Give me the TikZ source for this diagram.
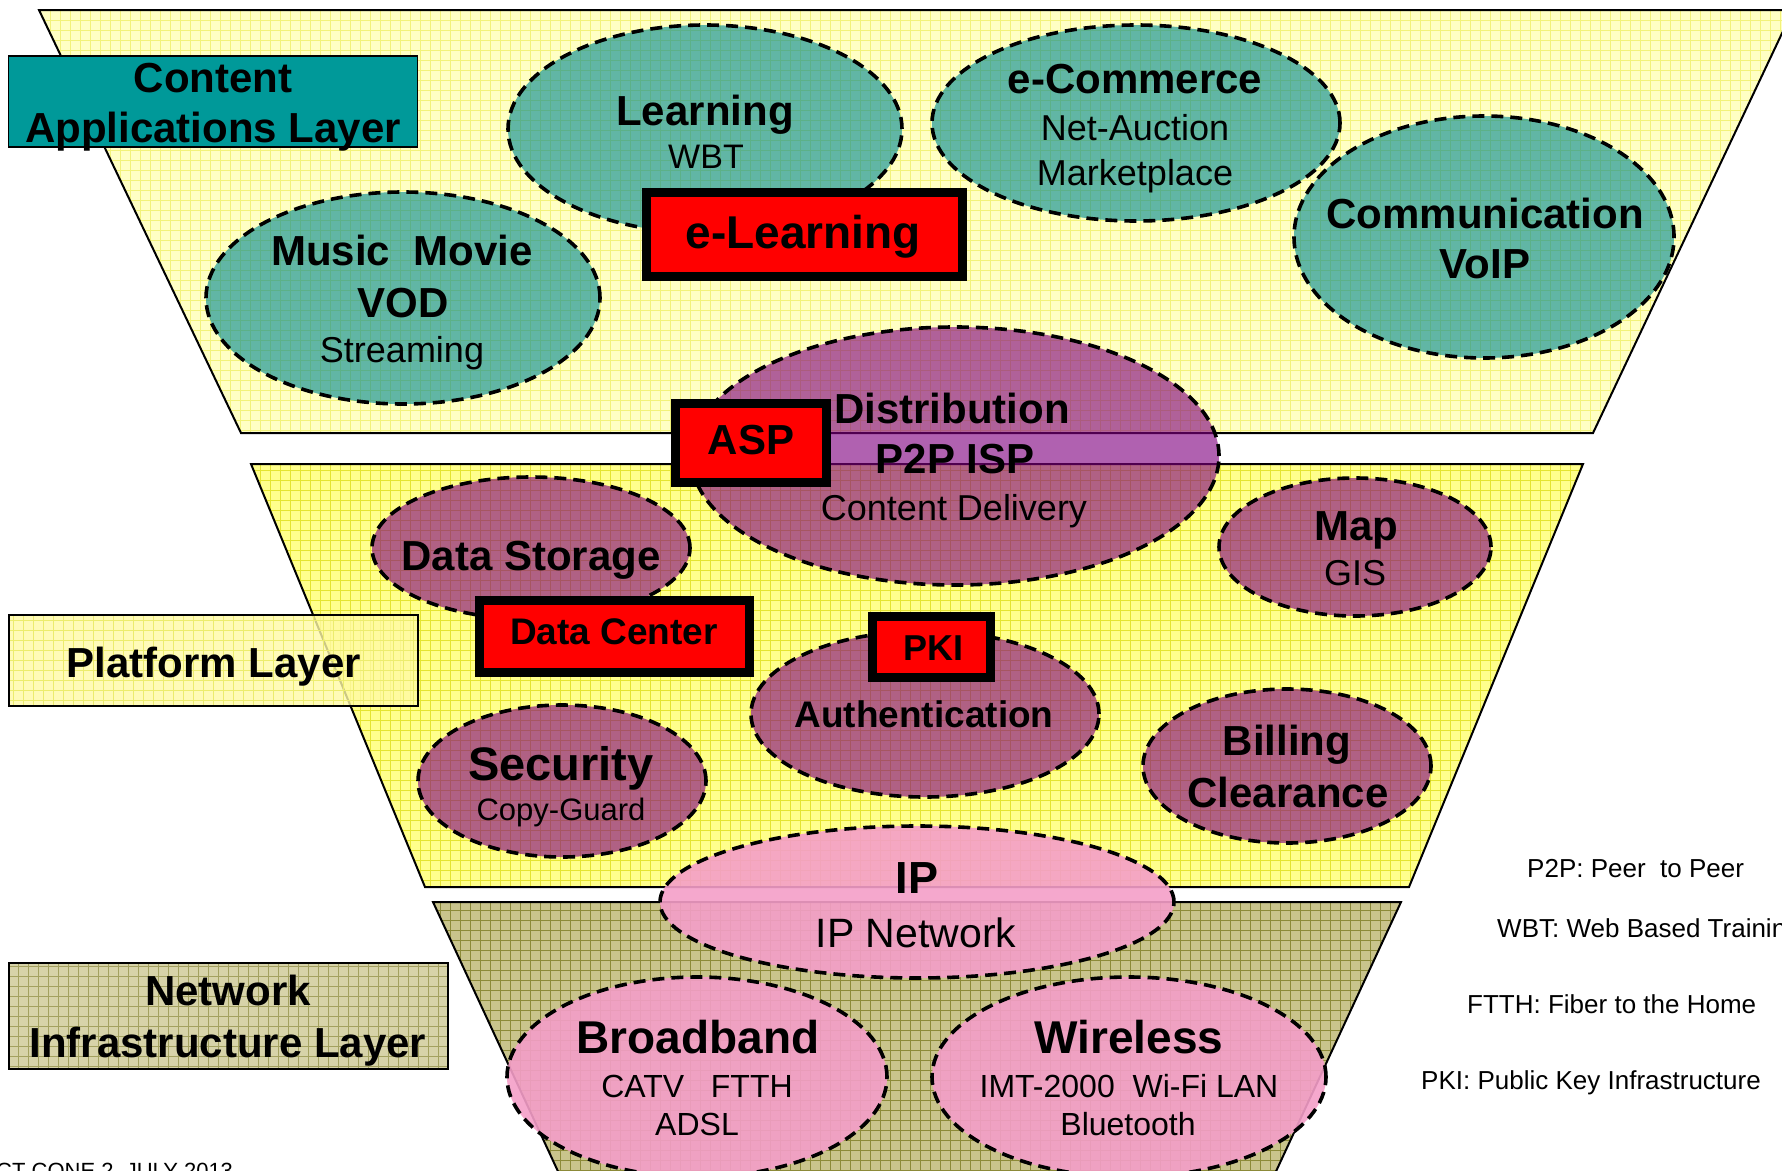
\documentclass[tikz,border=0pt]{standalone}
\usepackage{fontspec}
\setmainfont{Liberation Sans}
\usetikzlibrary{shapes.geometric}

\definecolor{paleyellow}{HTML}{FFFFC4}
\definecolor{paleyellowgrid}{HTML}{F2F27A}
\definecolor{platyellow}{HTML}{FFFF8C}
\definecolor{platyellowgrid}{HTML}{E4E430}
\definecolor{olivefill}{HTML}{C9C48C}
\definecolor{olivegrid}{HTML}{8C8A38}
\definecolor{tealbox}{HTML}{009999}
\definecolor{tealblob}{HTML}{008A92}
\definecolor{plumblob}{HTML}{800080}
\definecolor{pinkblob}{HTML}{F49EC8}

% one funnel layer: outline, fill colour, grid colour
\newcommand{\layerfill}[3]{%
  \begin{scope}
    \clip #1 -- cycle;
    \fill[#2] (0,0) rectangle (1800,1180);
    \draw[#3, line width=0.7pt, step=10pt] (0,1180) grid (1800,0);
  \end{scope}
  \draw[layer] #1 -- cycle;}

\begin{document}
\begin{tikzpicture}[x=1pt,y=-1pt,
    layer/.style={draw=black, line width=2pt},
    lblbox/.style={draw=black, line width=1.6pt, inner sep=0pt},
    blob/.style={ellipse, draw=black, line width=3.6pt, dash pattern=on 12pt off 7pt,
      fill opacity=0.62, inner sep=0pt},
    redbox/.style={draw=black, fill=red, line width=9pt, inner sep=0pt},
    head/.style={anchor=base, inner sep=0pt, font=\bfseries\fontsize{42}{42}\selectfont},
    sub/.style={anchor=base, inner sep=0pt, font=\fontsize{36}{36}\selectfont},
    note/.style={anchor=base west, inner sep=0pt, font=\fontsize{26}{26}\selectfont}]
  \useasboundingbox (0,0) rectangle (1782,1170);
  \clip (0,0) rectangle (1782,1170);

  % the three layers of the funnel
  \layerfill{(39,10) -- (1793,10) -- (1593,433) -- (241,433)}{paleyellow}{paleyellowgrid}
  \layerfill{(251,464) -- (1583,464) -- (1409,887) -- (425,887)}{platyellow}{platyellowgrid}
  \layerfill{(433,902) -- (1401,902) -- (1272,1180) -- (562,1180)}{olivefill}{olivegrid}

  % layer names
  \node[lblbox, fill=tealbox, minimum width=409pt, minimum height=91pt] (contentlbl) at (213,101.5) {};
  \node[lblbox, fill=yellow!35, fill opacity=0.8, minimum width=409pt, minimum height=91pt,
    path picture={\draw[platyellowgrid!70, line width=0.6pt, step=10pt]
      (path picture bounding box.south west) grid (path picture bounding box.north east);}]
    (platformlbl) at (213.5,660.5) {};
  \node[lblbox, fill=olivefill!75, minimum width=439pt, minimum height=106pt,
    path picture={\draw[olivegrid!80, line width=0.6pt, step=10pt]
      (path picture bounding box.south west) grid (path picture bounding box.north east);}]
    (networklbl) at (228.5,1016) {};

  % content applications
  \node[blob, fill=tealblob, minimum width=394pt, minimum height=208pt] (learn) at (705,129) {};
  \node[blob, fill=tealblob, minimum width=408pt, minimum height=196pt] (ecom) at (1136,123) {};
  \node[blob, fill=tealblob, minimum width=380pt, minimum height=242pt] (comm) at (1484,237) {};
  \node[blob, fill=tealblob, minimum width=394pt, minimum height=212pt] (music) at (403,298) {};

  % platform
  \node[blob, fill=plumblob, minimum width=528pt, minimum height=258pt] (distr) at (955,456) {};
  \node[blob, fill=plumblob, minimum width=318pt, minimum height=142pt] (store) at (531,548) {};
  \node[blob, fill=plumblob, minimum width=348pt, minimum height=166pt] (auth) at (925,714) {};
  \node[blob, fill=plumblob, minimum width=288pt, minimum height=152pt] (secur) at (562,781) {};
  \node[blob, fill=plumblob, minimum width=272pt, minimum height=138pt] (map) at (1355,547) {};
  \node[blob, fill=plumblob, minimum width=288pt, minimum height=154pt] (bill) at (1287,766) {};

  % network infrastructure
  \node[blob, fill=pinkblob, fill opacity=0.9, minimum width=514pt, minimum height=152pt] (ip) at (917,902) {};
  \node[blob, fill=pinkblob, fill opacity=0.9, minimum width=380pt, minimum height=200pt] (broad) at (697,1077) {};
  \node[blob, fill=pinkblob, fill opacity=0.9, minimum width=394pt, minimum height=200pt] (wire) at (1129,1077) {};

  % business boxes
  \node[redbox, minimum width=316pt, minimum height=84pt] (elearn) at (804.5,234.5) {};
  \node[redbox, minimum width=151pt, minimum height=79pt] (asp) at (751,443) {};
  \node[redbox, minimum width=270pt, minimum height=72pt] (dcenter) at (614.5,636.5) {};
  \node[redbox, minimum width=118pt, minimum height=61pt] (pki) at (931.5,647) {};

  % texts
  \node[head] (contenttxt) at (213,92) {Content};
  \node[head] (appltxt) at (213,142) {Applications Layer};
  \node[head] (platformtxt) at (214,677) {Platform Layer};
  \node[head] (networktxt) at (228,1005) {Network};
  \node[head] (infratxt) at (228,1057) {Infrastructure Layer};

  \node[head] (learntxt) at (705,125) {Learning};
  \node[sub, font=\fontsize{34}{34}\selectfont] (wbttxt) at (706,168) {WBT};
  \node[head] (ecomtxt) at (1135,93) {e-Commerce};
  \node[sub] (auctiontxt) at (1135,140) {Net-Auction};
  \node[sub] (markettxt) at (1135,185) {Marketplace};
  \node[head] (commtxt) at (1485,228) {Communication};
  \node[head] (voiptxt) at (1485,278) {VoIP};
  \node[head] (musictxt) at (402,265) {Music\ \ Movie};
  \node[head] (vodtxt) at (403,317) {VOD};
  \node[sub] (streamtxt) at (402,362) {Streaming};
  \node[head, font=\bfseries\fontsize{46}{46}\selectfont] (elearntxt) at (803,248) {e-Learning};

  \node[head] (asptxt) at (751,454) {ASP};
  \node[head] (distrtxt) at (952,423) {Distribution};
  \node[head] (isptxt) at (955,473) {P2P ISP};
  \node[sub] (deliverytxt) at (954,520) {Content Delivery};
  \node[head] (storetxt) at (531,570) {Data Storage};
  \node[head, font=\bfseries\fontsize{37}{37}\selectfont] (dcentertxt) at (614,644) {Data Center};
  \node[head, font=\bfseries\fontsize{36}{36}\selectfont] (pkitxt) at (933,660) {PKI};
  \node[head, font=\bfseries\fontsize{37}{37}\selectfont] (authtxt) at (924,727) {Authentication};
  \node[head, font=\bfseries\fontsize{47}{47}\selectfont] (securtxt) at (561,780) {Security};
  \node[sub, font=\fontsize{31}{31}\selectfont] (guardtxt) at (561,820) {Copy-Guard};
  \node[head] (maptxt) at (1356,540) {Map};
  \node[sub] (gistxt) at (1355,585) {GIS};
  \node[head] (billtxt) at (1287,755) {Billing};
  \node[head] (cleartxt) at (1288,807) {Clearance};

  \node[head, font=\bfseries\fontsize{45}{45}\selectfont] (iptxt) at (917,893) {IP};
  \node[sub, font=\fontsize{41}{41}\selectfont] (ipnettxt) at (916,947) {IP Network};
  \node[head, font=\bfseries\fontsize{46}{46}\selectfont] (broadtxt) at (698,1053) {Broadband};
  \node[sub, font=\fontsize{32}{32}\selectfont] (catvtxt) at (697,1097) {CATV\ \ \ FTTH};
  \node[sub, font=\fontsize{32}{32}\selectfont] (adsltxt) at (697,1135) {ADSL};
  \node[head, font=\bfseries\fontsize{46}{46}\selectfont] (wiretxt) at (1129,1053) {Wireless};
  \node[sub, font=\fontsize{32}{32}\selectfont] (imttxt) at (1129,1097) {IMT-2000\ \ Wi-Fi LAN};
  \node[sub, font=\fontsize{32}{32}\selectfont] (bluetxt) at (1128,1135) {Bluetooth};

  % abbreviations
  \node[note] (p2pnote) at (1527,877) {P2P: Peer\ \ to Peer};
  \node[note] (wbtnote) at (1497,937) {WBT: Web Based Training};
  \node[note] (ftthnote) at (1467,1013) {FTTH: Fiber to the Home};
  \node[note] (pkinote) at (1421,1089) {PKI: Public Key Infrastructure};
  \node[note, font=\fontsize{22}{22}\selectfont] (footnote) at (-4,1178) {CT CONE 2, JULY 2013};
\end{tikzpicture}
\end{document}
